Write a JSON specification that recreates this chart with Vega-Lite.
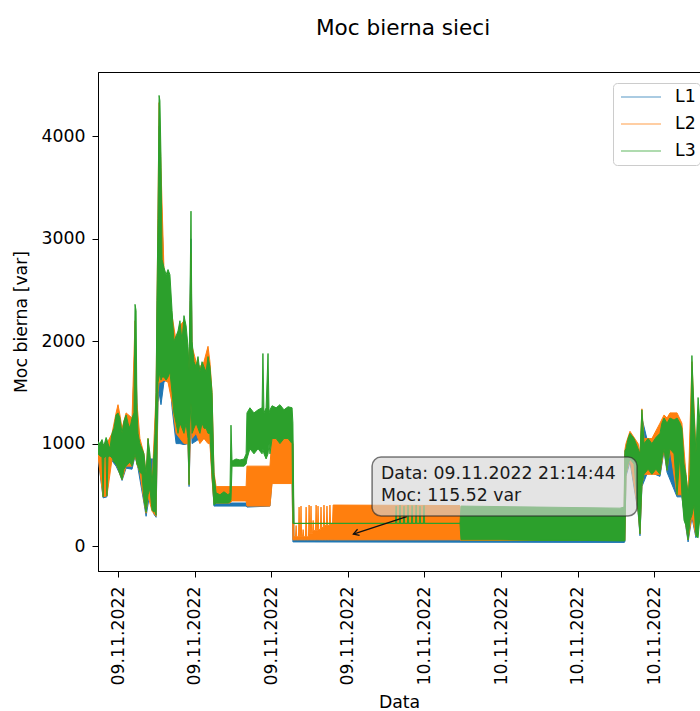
{
"$schema":"https://vega.github.io/schema/vega-lite/v6.json",
"autosize":{"type":"none"},
"padding":{"left":98,"top":72,"right":0,"bottom":140},
"width":602,"height":499,
"background":"white",
"title":{"text":"Moc bierna sieci","fontSize":21.6,"font":"DejaVu Sans","fontWeight":"normal","color":"#000","anchor":"middle","offset":32,"dx":4},
"config":{"view":{"stroke":"#000","strokeWidth":1},"font":"DejaVu Sans",
 "axis":{"labelFont":"DejaVu Sans","labelFontSize":17.3,"labelColor":"#000","tickColor":"#000","tickSize":6,"tickWidth":1,"domainColor":"#000","grid":false,"titleFont":"DejaVu Sans","titleFontSize":17.3,"titleFontWeight":"normal","titleColor":"#000"}},
"datasets":{
"series":[
{"t":"2022-11-09T01:26","s":"L1","lo":870,"hi":960},
{"t":"2022-11-09T01:50","s":"L1","lo":470,"hi":950},
{"t":"2022-11-09T02:08","s":"L1","lo":480,"hi":950},
{"t":"2022-11-09T02:22","s":"L1","lo":860,"hi":930},
{"t":"2022-11-09T02:51","s":"L1","lo":780,"hi":1150},
{"t":"2022-11-09T03:09","s":"L1","lo":700,"hi":1150},
{"t":"2022-11-09T03:19","s":"L1","lo":640,"hi":1000},
{"t":"2022-11-09T03:38","s":"L1","lo":760,"hi":1150},
{"t":"2022-11-09T04:06","s":"L1","lo":750,"hi":1150},
{"t":"2022-11-09T04:20","s":"L1","lo":880,"hi":2000},
{"t":"2022-11-09T04:34","s":"L1","lo":760,"hi":1050},
{"t":"2022-11-09T05:02","s":"L1","lo":420,"hi":850},
{"t":"2022-11-09T05:12","s":"L1","lo":290,"hi":650},
{"t":"2022-11-09T05:30","s":"L1","lo":520,"hi":850},
{"t":"2022-11-09T05:49","s":"L1","lo":310,"hi":850},
{"t":"2022-11-09T05:59","s":"L1","lo":280,"hi":1400},
{"t":"2022-11-09T06:08","s":"L1","lo":1400,"hi":3000},
{"t":"2022-11-09T06:13","s":"L1","lo":1500,"hi":4100},
{"t":"2022-11-09T06:22","s":"L1","lo":1380,"hi":3500},
{"t":"2022-11-09T06:36","s":"L1","lo":1600,"hi":2600},
{"t":"2022-11-09T07:04","s":"L1","lo":1650,"hi":2500},
{"t":"2022-11-09T07:14","s":"L1","lo":1350,"hi":2200},
{"t":"2022-11-09T07:33","s":"L1","lo":1000,"hi":1950},
{"t":"2022-11-09T07:51","s":"L1","lo":1000,"hi":2100},
{"t":"2022-11-09T08:10","s":"L1","lo":990,"hi":2100},
{"t":"2022-11-09T08:29","s":"L1","lo":1000,"hi":1850},
{"t":"2022-11-09T08:34","s":"L1","lo":580,"hi":1600},
{"t":"2022-11-09T08:43","s":"L1","lo":1300,"hi":3000},
{"t":"2022-11-09T08:48","s":"L1","lo":1000,"hi":1900},
{"t":"2022-11-09T09:25","s":"L1","lo":1050,"hi":1600},
{"t":"2022-11-09T10:03","s":"L1","lo":1050,"hi":1750},
{"t":"2022-11-09T10:12","s":"L1","lo":1050,"hi":1700},
{"t":"2022-11-09T10:22","s":"L1","lo":680,"hi":1400},
{"t":"2022-11-09T10:31","s":"L1","lo":390,"hi":650},
{"t":"2022-11-09T10:41","s":"L1","lo":390,"hi":420},
{"t":"2022-11-09T13:02","s":"L1","lo":390,"hi":420},
{"t":"2022-11-09T13:06","s":"L1","lo":380,"hi":430},
{"t":"2022-11-09T14:54","s":"L1","lo":390,"hi":420},
{"t":"2022-11-09T15:04","s":"L1","lo":640,"hi":1000},
{"t":"2022-11-09T16:38","s":"L1","lo":640,"hi":1000},
{"t":"2022-11-09T16:42","s":"L1","lo":40,"hi":1000},
{"t":"2022-11-09T16:47","s":"L1","lo":40,"hi":60},
{"t":"2022-11-10T18:38","s":"L1","lo":35,"hi":60},
{"t":"2022-11-10T18:42","s":"L1","lo":40,"hi":900},
{"t":"2022-11-10T18:47","s":"L1","lo":680,"hi":900},
{"t":"2022-11-10T19:06","s":"L1","lo":820,"hi":1050},
{"t":"2022-11-10T19:44","s":"L1","lo":330,"hi":900},
{"t":"2022-11-10T19:53","s":"L1","lo":100,"hi":850},
{"t":"2022-11-10T20:02","s":"L1","lo":580,"hi":1250},
{"t":"2022-11-10T20:31","s":"L1","lo":730,"hi":1000},
{"t":"2022-11-10T21:27","s":"L1","lo":680,"hi":1050},
{"t":"2022-11-10T21:46","s":"L1","lo":930,"hi":1200},
{"t":"2022-11-10T22:00","s":"L1","lo":720,"hi":1150},
{"t":"2022-11-10T22:47","s":"L1","lo":480,"hi":1200},
{"t":"2022-11-10T23:10","s":"L1","lo":480,"hi":1100},
{"t":"2022-11-10T23:29","s":"L1","lo":180,"hi":650},
{"t":"2022-11-10T23:39","s":"L1","lo":40,"hi":450},
{"t":"2022-11-10T23:57","s":"L1","lo":280,"hi":1500},
{"t":"2022-11-11T00:16","s":"L1","lo":80,"hi":850},
{"t":"2022-11-11T00:35","s":"L1","lo":280,"hi":1100},
{"t":"2022-11-09T01:26","s":"L2","lo":880,"hi":1000},
{"t":"2022-11-09T01:50","s":"L2","lo":480,"hi":980},
{"t":"2022-11-09T02:08","s":"L2","lo":490,"hi":1000},
{"t":"2022-11-09T02:32","s":"L2","lo":850,"hi":1100},
{"t":"2022-11-09T02:51","s":"L2","lo":800,"hi":1300},
{"t":"2022-11-09T03:00","s":"L2","lo":760,"hi":1380},
{"t":"2022-11-09T03:09","s":"L2","lo":700,"hi":1280},
{"t":"2022-11-09T03:19","s":"L2","lo":650,"hi":1150},
{"t":"2022-11-09T03:38","s":"L2","lo":780,"hi":1300},
{"t":"2022-11-09T04:06","s":"L2","lo":780,"hi":1250},
{"t":"2022-11-09T04:20","s":"L2","lo":890,"hi":2200},
{"t":"2022-11-09T04:29","s":"L2","lo":800,"hi":1400},
{"t":"2022-11-09T04:43","s":"L2","lo":720,"hi":1050},
{"t":"2022-11-09T05:02","s":"L2","lo":440,"hi":900},
{"t":"2022-11-09T05:12","s":"L2","lo":320,"hi":700},
{"t":"2022-11-09T05:21","s":"L2","lo":490,"hi":1050},
{"t":"2022-11-09T05:40","s":"L2","lo":340,"hi":600},
{"t":"2022-11-09T05:59","s":"L2","lo":290,"hi":1500},
{"t":"2022-11-09T06:08","s":"L2","lo":1500,"hi":3300},
{"t":"2022-11-09T06:13","s":"L2","lo":1600,"hi":4330},
{"t":"2022-11-09T06:22","s":"L2","lo":1600,"hi":3700},
{"t":"2022-11-09T06:36","s":"L2","lo":1620,"hi":2700},
{"t":"2022-11-09T06:55","s":"L2","lo":1600,"hi":2500},
{"t":"2022-11-09T07:14","s":"L2","lo":1400,"hi":2250},
{"t":"2022-11-09T07:33","s":"L2","lo":1100,"hi":2000},
{"t":"2022-11-09T07:51","s":"L2","lo":1050,"hi":2150},
{"t":"2022-11-09T08:10","s":"L2","lo":1000,"hi":2200},
{"t":"2022-11-09T08:29","s":"L2","lo":1000,"hi":1900},
{"t":"2022-11-09T08:34","s":"L2","lo":600,"hi":1650},
{"t":"2022-11-09T08:43","s":"L2","lo":1350,"hi":2860},
{"t":"2022-11-09T08:48","s":"L2","lo":1050,"hi":1950},
{"t":"2022-11-09T09:07","s":"L2","lo":1100,"hi":1800},
{"t":"2022-11-09T09:25","s":"L2","lo":1000,"hi":1750},
{"t":"2022-11-09T09:44","s":"L2","lo":1050,"hi":1800},
{"t":"2022-11-09T10:03","s":"L2","lo":1000,"hi":1950},
{"t":"2022-11-09T10:12","s":"L2","lo":1000,"hi":1800},
{"t":"2022-11-09T10:22","s":"L2","lo":650,"hi":1500},
{"t":"2022-11-09T10:31","s":"L2","lo":420,"hi":720},
{"t":"2022-11-09T10:41","s":"L2","lo":420,"hi":580},
{"t":"2022-11-09T11:46","s":"L2","lo":420,"hi":580},
{"t":"2022-11-09T11:56","s":"L2","lo":440,"hi":580},
{"t":"2022-11-09T13:02","s":"L2","lo":440,"hi":580},
{"t":"2022-11-09T13:06","s":"L2","lo":390,"hi":780},
{"t":"2022-11-09T14:54","s":"L2","lo":390,"hi":780},
{"t":"2022-11-09T15:04","s":"L2","lo":610,"hi":1080},
{"t":"2022-11-09T16:38","s":"L2","lo":610,"hi":1080},
{"t":"2022-11-09T16:42","s":"L2","lo":60,"hi":1000},
{"t":"2022-11-09T16:47","s":"L2","lo":60,"hi":90},
{"t":"2022-11-09T16:54","s":"L2","lo":60,"hi":90},
{"t":"2022-11-09T16:57","s":"L2","lo":60,"hi":200},
{"t":"2022-11-09T17:00","s":"L2","lo":60,"hi":90},
{"t":"2022-11-09T17:08","s":"L2","lo":60,"hi":90},
{"t":"2022-11-09T17:11","s":"L2","lo":60,"hi":380},
{"t":"2022-11-09T17:14","s":"L2","lo":60,"hi":90},
{"t":"2022-11-09T17:17","s":"L2","lo":60,"hi":90},
{"t":"2022-11-09T17:20","s":"L2","lo":60,"hi":390},
{"t":"2022-11-09T17:23","s":"L2","lo":60,"hi":90},
{"t":"2022-11-09T17:27","s":"L2","lo":60,"hi":90},
{"t":"2022-11-09T17:30","s":"L2","lo":60,"hi":160},
{"t":"2022-11-09T17:33","s":"L2","lo":60,"hi":90},
{"t":"2022-11-09T17:41","s":"L2","lo":60,"hi":90},
{"t":"2022-11-09T17:44","s":"L2","lo":60,"hi":380},
{"t":"2022-11-09T17:47","s":"L2","lo":60,"hi":90},
{"t":"2022-11-09T17:55","s":"L2","lo":60,"hi":90},
{"t":"2022-11-09T17:58","s":"L2","lo":60,"hi":400},
{"t":"2022-11-09T18:01","s":"L2","lo":60,"hi":120},
{"t":"2022-11-09T18:04","s":"L2","lo":60,"hi":120},
{"t":"2022-11-09T18:07","s":"L2","lo":60,"hi":390},
{"t":"2022-11-09T18:10","s":"L2","lo":60,"hi":120},
{"t":"2022-11-09T18:14","s":"L2","lo":60,"hi":120},
{"t":"2022-11-09T18:17","s":"L2","lo":60,"hi":250},
{"t":"2022-11-09T18:20","s":"L2","lo":60,"hi":150},
{"t":"2022-11-09T18:28","s":"L2","lo":60,"hi":150},
{"t":"2022-11-09T18:31","s":"L2","lo":60,"hi":400},
{"t":"2022-11-09T18:34","s":"L2","lo":60,"hi":150},
{"t":"2022-11-09T18:37","s":"L2","lo":60,"hi":150},
{"t":"2022-11-09T18:40","s":"L2","lo":60,"hi":390},
{"t":"2022-11-09T18:43","s":"L2","lo":60,"hi":160},
{"t":"2022-11-09T18:51","s":"L2","lo":60,"hi":160},
{"t":"2022-11-09T18:54","s":"L2","lo":60,"hi":380},
{"t":"2022-11-09T18:57","s":"L2","lo":60,"hi":180},
{"t":"2022-11-09T19:05","s":"L2","lo":60,"hi":180},
{"t":"2022-11-09T19:08","s":"L2","lo":60,"hi":400},
{"t":"2022-11-09T19:11","s":"L2","lo":60,"hi":200},
{"t":"2022-11-09T19:19","s":"L2","lo":60,"hi":200},
{"t":"2022-11-09T19:22","s":"L2","lo":60,"hi":390},
{"t":"2022-11-09T19:25","s":"L2","lo":60,"hi":200},
{"t":"2022-11-09T19:33","s":"L2","lo":60,"hi":200},
{"t":"2022-11-09T19:36","s":"L2","lo":60,"hi":400},
{"t":"2022-11-09T19:39","s":"L2","lo":60,"hi":220},
{"t":"2022-11-09T19:48","s":"L2","lo":60,"hi":220},
{"t":"2022-11-09T19:51","s":"L2","lo":60,"hi":400},
{"t":"2022-11-10T05:47","s":"L2","lo":60,"hi":395},
{"t":"2022-11-10T05:52","s":"L2","lo":55,"hi":200},
{"t":"2022-11-10T18:38","s":"L2","lo":55,"hi":200},
{"t":"2022-11-10T18:42","s":"L2","lo":55,"hi":940},
{"t":"2022-11-10T18:47","s":"L2","lo":700,"hi":1000},
{"t":"2022-11-10T19:06","s":"L2","lo":850,"hi":1120},
{"t":"2022-11-10T19:44","s":"L2","lo":350,"hi":1000},
{"t":"2022-11-10T19:53","s":"L2","lo":120,"hi":900},
{"t":"2022-11-10T20:02","s":"L2","lo":600,"hi":1340},
{"t":"2022-11-10T20:12","s":"L2","lo":700,"hi":1050},
{"t":"2022-11-10T20:49","s":"L2","lo":700,"hi":1050},
{"t":"2022-11-10T21:27","s":"L2","lo":700,"hi":1200},
{"t":"2022-11-10T21:46","s":"L2","lo":950,"hi":1280},
{"t":"2022-11-10T22:00","s":"L2","lo":740,"hi":1250},
{"t":"2022-11-10T22:14","s":"L2","lo":950,"hi":1300},
{"t":"2022-11-10T22:47","s":"L2","lo":500,"hi":1300},
{"t":"2022-11-10T23:10","s":"L2","lo":500,"hi":1200},
{"t":"2022-11-10T23:29","s":"L2","lo":200,"hi":700},
{"t":"2022-11-10T23:39","s":"L2","lo":60,"hi":500},
{"t":"2022-11-10T23:57","s":"L2","lo":300,"hi":1800},
{"t":"2022-11-11T00:16","s":"L2","lo":100,"hi":950},
{"t":"2022-11-11T00:35","s":"L2","lo":300,"hi":1250},
{"t":"2022-11-09T01:26","s":"L3","lo":900,"hi":1020},
{"t":"2022-11-09T01:35","s":"L3","lo":880,"hi":1000},
{"t":"2022-11-09T01:45","s":"L3","lo":870,"hi":1040},
{"t":"2022-11-09T01:50","s":"L3","lo":480,"hi":1000},
{"t":"2022-11-09T01:54","s":"L3","lo":860,"hi":980},
{"t":"2022-11-09T02:04","s":"L3","lo":880,"hi":1060},
{"t":"2022-11-09T02:08","s":"L3","lo":490,"hi":1040},
{"t":"2022-11-09T02:13","s":"L3","lo":870,"hi":1000},
{"t":"2022-11-09T02:22","s":"L3","lo":880,"hi":950},
{"t":"2022-11-09T02:32","s":"L3","lo":860,"hi":1100},
{"t":"2022-11-09T02:41","s":"L3","lo":820,"hi":1150},
{"t":"2022-11-09T02:51","s":"L3","lo":800,"hi":1280},
{"t":"2022-11-09T03:00","s":"L3","lo":760,"hi":1300},
{"t":"2022-11-09T03:09","s":"L3","lo":700,"hi":1250},
{"t":"2022-11-09T03:19","s":"L3","lo":650,"hi":1100},
{"t":"2022-11-09T03:28","s":"L3","lo":750,"hi":1220},
{"t":"2022-11-09T03:38","s":"L3","lo":780,"hi":1280},
{"t":"2022-11-09T03:47","s":"L3","lo":800,"hi":1200},
{"t":"2022-11-09T03:56","s":"L3","lo":820,"hi":1150},
{"t":"2022-11-09T04:06","s":"L3","lo":780,"hi":1250},
{"t":"2022-11-09T04:15","s":"L3","lo":850,"hi":1300},
{"t":"2022-11-09T04:20","s":"L3","lo":900,"hi":2360},
{"t":"2022-11-09T04:25","s":"L3","lo":850,"hi":2300},
{"t":"2022-11-09T04:29","s":"L3","lo":800,"hi":1350},
{"t":"2022-11-09T04:34","s":"L3","lo":780,"hi":1100},
{"t":"2022-11-09T04:43","s":"L3","lo":720,"hi":1000},
{"t":"2022-11-09T04:53","s":"L3","lo":700,"hi":950},
{"t":"2022-11-09T05:02","s":"L3","lo":450,"hi":900},
{"t":"2022-11-09T05:12","s":"L3","lo":330,"hi":700},
{"t":"2022-11-09T05:21","s":"L3","lo":500,"hi":1050},
{"t":"2022-11-09T05:30","s":"L3","lo":560,"hi":900},
{"t":"2022-11-09T05:40","s":"L3","lo":350,"hi":600},
{"t":"2022-11-09T05:49","s":"L3","lo":330,"hi":900},
{"t":"2022-11-09T05:54","s":"L3","lo":350,"hi":1100},
{"t":"2022-11-09T05:59","s":"L3","lo":300,"hi":1500},
{"t":"2022-11-09T06:03","s":"L3","lo":1000,"hi":2400},
{"t":"2022-11-09T06:08","s":"L3","lo":1600,"hi":3200},
{"t":"2022-11-09T06:13","s":"L3","lo":1650,"hi":4400},
{"t":"2022-11-09T06:17","s":"L3","lo":1700,"hi":4350},
{"t":"2022-11-09T06:22","s":"L3","lo":1620,"hi":3800},
{"t":"2022-11-09T06:27","s":"L3","lo":1650,"hi":2800},
{"t":"2022-11-09T06:36","s":"L3","lo":1650,"hi":2720},
{"t":"2022-11-09T06:46","s":"L3","lo":1620,"hi":2650},
{"t":"2022-11-09T06:55","s":"L3","lo":1650,"hi":2700},
{"t":"2022-11-09T07:04","s":"L3","lo":1700,"hi":2650},
{"t":"2022-11-09T07:14","s":"L3","lo":1500,"hi":2300},
{"t":"2022-11-09T07:23","s":"L3","lo":1300,"hi":2000},
{"t":"2022-11-09T07:33","s":"L3","lo":1200,"hi":2050},
{"t":"2022-11-09T07:42","s":"L3","lo":1100,"hi":2100},
{"t":"2022-11-09T07:51","s":"L3","lo":1200,"hi":2200},
{"t":"2022-11-09T08:01","s":"L3","lo":1150,"hi":2000},
{"t":"2022-11-09T08:10","s":"L3","lo":1100,"hi":2250},
{"t":"2022-11-09T08:20","s":"L3","lo":1200,"hi":2150},
{"t":"2022-11-09T08:29","s":"L3","lo":1050,"hi":1950},
{"t":"2022-11-09T08:34","s":"L3","lo":600,"hi":1700},
{"t":"2022-11-09T08:38","s":"L3","lo":1200,"hi":2400},
{"t":"2022-11-09T08:43","s":"L3","lo":1400,"hi":3270},
{"t":"2022-11-09T08:48","s":"L3","lo":1100,"hi":2000},
{"t":"2022-11-09T08:57","s":"L3","lo":1150,"hi":1800},
{"t":"2022-11-09T09:07","s":"L3","lo":1200,"hi":1750},
{"t":"2022-11-09T09:16","s":"L3","lo":1150,"hi":1850},
{"t":"2022-11-09T09:25","s":"L3","lo":1100,"hi":1700},
{"t":"2022-11-09T09:35","s":"L3","lo":1200,"hi":1800},
{"t":"2022-11-09T09:44","s":"L3","lo":1150,"hi":1750},
{"t":"2022-11-09T09:54","s":"L3","lo":1150,"hi":1700},
{"t":"2022-11-09T10:03","s":"L3","lo":1100,"hi":1850},
{"t":"2022-11-09T10:12","s":"L3","lo":1100,"hi":1750},
{"t":"2022-11-09T10:22","s":"L3","lo":700,"hi":1500},
{"t":"2022-11-09T10:31","s":"L3","lo":400,"hi":700},
{"t":"2022-11-09T10:41","s":"L3","lo":420,"hi":520},
{"t":"2022-11-09T10:59","s":"L3","lo":420,"hi":500},
{"t":"2022-11-09T11:18","s":"L3","lo":420,"hi":530},
{"t":"2022-11-09T11:37","s":"L3","lo":420,"hi":500},
{"t":"2022-11-09T11:46","s":"L3","lo":430,"hi":520},
{"t":"2022-11-09T11:51","s":"L3","lo":450,"hi":1180},
{"t":"2022-11-09T11:56","s":"L3","lo":780,"hi":830},
{"t":"2022-11-09T12:15","s":"L3","lo":780,"hi":850},
{"t":"2022-11-09T12:33","s":"L3","lo":780,"hi":840},
{"t":"2022-11-09T12:52","s":"L3","lo":780,"hi":850},
{"t":"2022-11-09T13:02","s":"L3","lo":800,"hi":900},
{"t":"2022-11-09T13:06","s":"L3","lo":850,"hi":1300},
{"t":"2022-11-09T13:20","s":"L3","lo":950,"hi":1350},
{"t":"2022-11-09T13:39","s":"L3","lo":900,"hi":1300},
{"t":"2022-11-09T13:58","s":"L3","lo":950,"hi":1330},
{"t":"2022-11-09T14:17","s":"L3","lo":900,"hi":1350},
{"t":"2022-11-09T14:21","s":"L3","lo":950,"hi":1880},
{"t":"2022-11-09T14:26","s":"L3","lo":900,"hi":1300},
{"t":"2022-11-09T14:36","s":"L3","lo":850,"hi":1350},
{"t":"2022-11-09T14:45","s":"L3","lo":900,"hi":1880},
{"t":"2022-11-09T14:50","s":"L3","lo":1000,"hi":1300},
{"t":"2022-11-09T14:54","s":"L3","lo":900,"hi":1330},
{"t":"2022-11-09T15:04","s":"L3","lo":1050,"hi":1370},
{"t":"2022-11-09T15:23","s":"L3","lo":1050,"hi":1350},
{"t":"2022-11-09T15:41","s":"L3","lo":1000,"hi":1380},
{"t":"2022-11-09T16:00","s":"L3","lo":1050,"hi":1330},
{"t":"2022-11-09T16:19","s":"L3","lo":1050,"hi":1360},
{"t":"2022-11-09T16:38","s":"L3","lo":1000,"hi":1350},
{"t":"2022-11-09T16:42","s":"L3","lo":220,"hi":1200},
{"t":"2022-11-09T16:47","s":"L3","lo":220,"hi":222},
{"t":"2022-11-10T00:44","s":"L3","lo":220,"hi":222},
{"t":"2022-11-10T00:47","s":"L3","lo":220,"hi":390},
{"t":"2022-11-10T00:50","s":"L3","lo":220,"hi":222},
{"t":"2022-11-10T01:02","s":"L3","lo":220,"hi":222},
{"t":"2022-11-10T01:05","s":"L3","lo":220,"hi":400},
{"t":"2022-11-10T01:08","s":"L3","lo":220,"hi":222},
{"t":"2022-11-10T01:21","s":"L3","lo":220,"hi":222},
{"t":"2022-11-10T01:24","s":"L3","lo":220,"hi":390},
{"t":"2022-11-10T01:27","s":"L3","lo":220,"hi":222},
{"t":"2022-11-10T01:40","s":"L3","lo":220,"hi":222},
{"t":"2022-11-10T01:43","s":"L3","lo":220,"hi":400},
{"t":"2022-11-10T01:46","s":"L3","lo":220,"hi":222},
{"t":"2022-11-10T01:59","s":"L3","lo":220,"hi":222},
{"t":"2022-11-10T02:02","s":"L3","lo":220,"hi":395},
{"t":"2022-11-10T02:05","s":"L3","lo":220,"hi":222},
{"t":"2022-11-10T02:18","s":"L3","lo":220,"hi":222},
{"t":"2022-11-10T02:21","s":"L3","lo":220,"hi":400},
{"t":"2022-11-10T02:24","s":"L3","lo":220,"hi":222},
{"t":"2022-11-10T02:36","s":"L3","lo":220,"hi":222},
{"t":"2022-11-10T02:39","s":"L3","lo":220,"hi":390},
{"t":"2022-11-10T02:42","s":"L3","lo":220,"hi":222},
{"t":"2022-11-10T02:55","s":"L3","lo":220,"hi":222},
{"t":"2022-11-10T02:58","s":"L3","lo":220,"hi":395},
{"t":"2022-11-10T03:01","s":"L3","lo":220,"hi":222},
{"t":"2022-11-10T05:47","s":"L3","lo":220,"hi":222},
{"t":"2022-11-10T05:52","s":"L3","lo":60,"hi":390},
{"t":"2022-11-10T08:55","s":"L3","lo":60,"hi":385},
{"t":"2022-11-10T12:03","s":"L3","lo":55,"hi":380},
{"t":"2022-11-10T15:11","s":"L3","lo":55,"hi":375},
{"t":"2022-11-10T18:19","s":"L3","lo":50,"hi":370},
{"t":"2022-11-10T18:38","s":"L3","lo":50,"hi":380},
{"t":"2022-11-10T18:42","s":"L3","lo":50,"hi":930},
{"t":"2022-11-10T18:47","s":"L3","lo":700,"hi":950},
{"t":"2022-11-10T18:57","s":"L3","lo":800,"hi":1050},
{"t":"2022-11-10T19:06","s":"L3","lo":850,"hi":1100},
{"t":"2022-11-10T19:25","s":"L3","lo":800,"hi":1050},
{"t":"2022-11-10T19:44","s":"L3","lo":350,"hi":950},
{"t":"2022-11-10T19:53","s":"L3","lo":120,"hi":900},
{"t":"2022-11-10T20:02","s":"L3","lo":600,"hi":1330},
{"t":"2022-11-10T20:12","s":"L3","lo":700,"hi":1000},
{"t":"2022-11-10T20:31","s":"L3","lo":750,"hi":1050},
{"t":"2022-11-10T20:49","s":"L3","lo":700,"hi":1000},
{"t":"2022-11-10T21:08","s":"L3","lo":750,"hi":1060},
{"t":"2022-11-10T21:27","s":"L3","lo":700,"hi":1100},
{"t":"2022-11-10T21:36","s":"L3","lo":850,"hi":1200},
{"t":"2022-11-10T21:46","s":"L3","lo":950,"hi":1250},
{"t":"2022-11-10T22:00","s":"L3","lo":740,"hi":1200},
{"t":"2022-11-10T22:14","s":"L3","lo":950,"hi":1250},
{"t":"2022-11-10T22:33","s":"L3","lo":900,"hi":1230},
{"t":"2022-11-10T22:47","s":"L3","lo":500,"hi":1250},
{"t":"2022-11-10T23:01","s":"L3","lo":900,"hi":1200},
{"t":"2022-11-10T23:10","s":"L3","lo":500,"hi":1150},
{"t":"2022-11-10T23:20","s":"L3","lo":250,"hi":800},
{"t":"2022-11-10T23:29","s":"L3","lo":200,"hi":700},
{"t":"2022-11-10T23:39","s":"L3","lo":60,"hi":500},
{"t":"2022-11-10T23:48","s":"L3","lo":250,"hi":700},
{"t":"2022-11-10T23:57","s":"L3","lo":300,"hi":1860},
{"t":"2022-11-11T00:07","s":"L3","lo":400,"hi":1300},
{"t":"2022-11-11T00:16","s":"L3","lo":100,"hi":900},
{"t":"2022-11-11T00:26","s":"L3","lo":80,"hi":1450},
{"t":"2022-11-11T00:35","s":"L3","lo":300,"hi":1200}
],
"box":[{"t1":"2022-11-09T22:54","t2":"2022-11-10T19:39","v1":293,"v2":869}],
"arrow":[{"t1":"2022-11-10T01:37","v1":286,"t2":"2022-11-09T21:26","v2":117}],
"label":[
{"t":"2022-11-09T23:36","v":703,"txt":"Data: 09.11.2022 21:14:44"},
{"t":"2022-11-09T23:36","v":488,"txt":"Moc: 115.52 var"}
]},
"layer":[
{"data":{"name":"series"},
 "mark":{"type":"area","clip":true,"strokeWidth":1,"interpolate":"linear"},
 "encoding":{
  "x":{"field":"t","type":"temporal","title":"Data",
   "scale":{"domain":[{"year":2022,"month":11,"date":9,"hours":1,"minutes":26},{"year":2022,"month":11,"date":11,"hours":0,"minutes":35}],"nice":false},
   "axis":{"values":[{"year":2022,"month":11,"date":9,"hours":3},{"year":2022,"month":11,"date":9,"hours":9},{"year":2022,"month":11,"date":9,"hours":15},{"year":2022,"month":11,"date":9,"hours":21},{"year":2022,"month":11,"date":10,"hours":3},{"year":2022,"month":11,"date":10,"hours":9},{"year":2022,"month":11,"date":10,"hours":15},{"year":2022,"month":11,"date":10,"hours":21}],
    "format":"%d.%m.%Y","labelAngle":270,"labelPadding":9,"labelOverlap":false,"labelFlush":false,"titlePadding":9}},
  "y":{"field":"hi","type":"quantitative","title":"Moc bierna [var]",
   "scale":{"domain":[-244,4629],"nice":false,"zero":false},
   "axis":{"values":[0,1000,2000,3000,4000],"format":"d","labelPadding":7,"titlePadding":11}},
  "y2":{"field":"lo"},
  "fill":{"field":"s","type":"nominal","scale":{"range":["#1f77b4","#ff7f0e","#2ca02c"]},"legend":null},
  "stroke":{"field":"s","type":"nominal","scale":{"domain":["L1","L2","L3"],"range":["#1f77b4","#ff7f0e","#2ca02c"]},
   "legend":{"orient":"none","legendX":515,"legendY":11,"title":null,"symbolType":"stroke","symbolSize":1600,"symbolStrokeWidth":1.5,"symbolOpacity":0.5,"symbolOffset":3,"clipHeight":20,"labelFontSize":17.3,"labelFont":"DejaVu Sans","labelColor":"#000","labelOffset":13,"rowPadding":7,"padding":4,"strokeColor":"#cccccc","fillColor":"white","cornerRadius":4}}
 }},
{"data":{"name":"arrow"},
 "mark":{"type":"rule","color":"#111","strokeWidth":1.3},
 "encoding":{"x":{"field":"t1","type":"temporal","title":"Data"},"y":{"field":"v1","type":"quantitative","title":"Moc bierna [var]"},"x2":{"field":"t2"},"y2":{"field":"v2"}}},
{"data":{"name":"arrow"},
 "mark":{"type":"point","shape":"M-1,-0.6L0,0L-1,0.6","filled":false,"size":120,"angle":162,"color":"#111","strokeWidth":1.3,"opacity":1},
 "encoding":{"x":{"field":"t2","type":"temporal","title":"Data"},"y":{"field":"v2","type":"quantitative","title":"Moc bierna [var]"}}},
{"data":{"name":"box"},
 "mark":{"type":"rect","cornerRadius":9,"fill":"#d3d3d3","fillOpacity":0.62,"stroke":"#222","strokeOpacity":0.6,"strokeWidth":1.5},
 "encoding":{"x":{"field":"t1","type":"temporal","title":"Data"},"x2":{"field":"t2"},"y":{"field":"v1","type":"quantitative","title":"Moc bierna [var]"},"y2":{"field":"v2"}}},
{"data":{"name":"label"},
 "mark":{"type":"text","align":"left","baseline":"middle","font":"DejaVu Sans","fontSize":17.3,"color":"#1a1a1a"},
 "encoding":{"x":{"field":"t","type":"temporal","title":"Data"},"y":{"field":"v","type":"quantitative","title":"Moc bierna [var]"},"text":{"field":"txt"}}}
]
}
